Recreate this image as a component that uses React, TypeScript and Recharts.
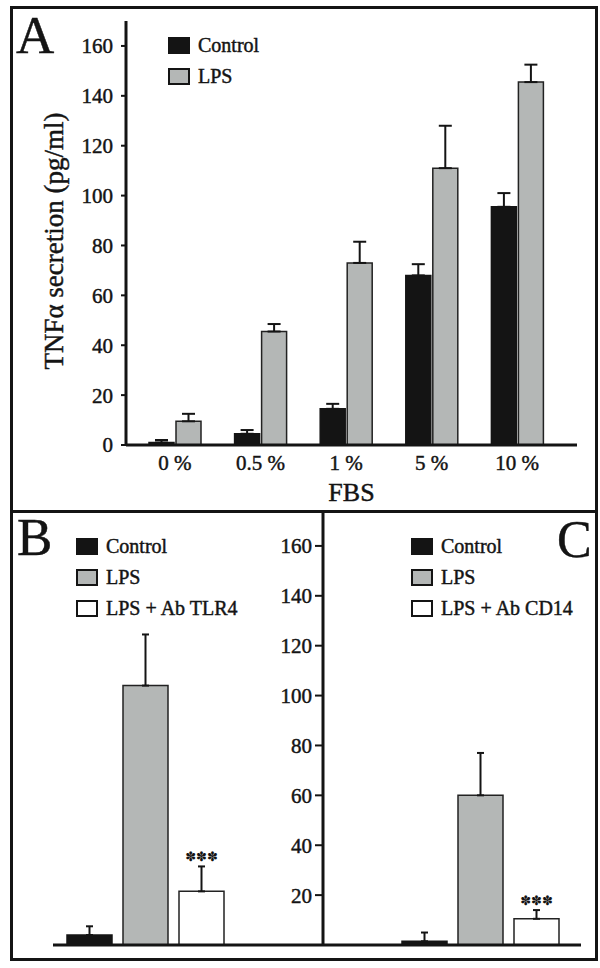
import { BarChart, Bar, XAxis, YAxis, ErrorBar, Legend, LabelList, Label } from 'recharts'

const SERIF = "'Liberation Serif', 'Times New Roman', serif"
const INK = '#141414'
const GREY = '#b4b7b6'

// panel A: TNFa vs FBS concentration
const fbsLevels = ['0 %', '0.5 %', '1 %', '5 %', '10 %']
const controlA = [1, 4.5, 14.5, 68, 95.5]
const controlAErr = [1, 1.5, 2, 4.5, 5.5]
const lpsA = [9.5, 45.5, 73, 111, 145.5]
const lpsAErr = [3, 3, 8.5, 17, 7]
const ticksA = [0, 20, 40, 60, 80, 100, 120, 140, 160]

// panels B and C: blocking antibodies
const antibodies = ['Ab TLR4', 'Ab CD14']
const controlBC = [4, 1.5]
const controlBCErr = [3.5, 3.5]
const lpsBC = [104, 60]
const lpsBCErr = [20.5, 17]
const blockedBC = [21.5, 10.5]
const blockedBCErr = [10, 3.5]
const significance = ['✽✽✽', '✽✽✽']
const ticksBC = [20, 40, 60, 80, 100, 120, 140, 160]

const dataA = fbsLevels.map((fbs, i) => ({
  fbs,
  control: controlA[i],
  controlErr: [0, controlAErr[i]],
  lps: lpsA[i],
  lpsErr: [0, lpsAErr[i]],
}))

const rowBC = (i: number) => [
  {
    group: antibodies[i],
    control: controlBC[i],
    controlErr: [0, controlBCErr[i]],
    lps: lpsBC[i],
    lpsErr: [0, lpsBCErr[i]],
    blocked: blockedBC[i],
    blockedErr: [0, blockedBCErr[i]],
    capSpan: blockedBCErr[i],
    stars: significance[i],
  },
]

type KeyItem = { name: string; fill: string }

// scanned figure has heavy type, a thin outline thickens the glyphs a little
const heavy = { stroke: INK, strokeWidth: 0.45 }

function Key({ items }: { items: KeyItem[] }) {
  return (
    <div style={{ fontFamily: SERIF, fontSize: 20, color: INK, whiteSpace: 'nowrap', WebkitTextStroke: '0.45px #141414' }}>
      {items.map((it) => (
        <div key={it.name} style={{ display: 'flex', alignItems: 'center', height: 31 }}>
          <span
            style={{
              display: 'inline-block',
              width: 22,
              height: 17,
              boxSizing: 'border-box',
              border: `2px solid ${INK}`,
              background: it.fill,
              marginRight: 8,
            }}
          />
          <span>{it.name}</span>
        </div>
      ))}
    </div>
  )
}

function YTitle(props: any) {
  const vb = props.viewBox || { x: 0, y: 21, width: 126, height: 424 }
  const cx = vb.x + 54
  const cy = vb.y + vb.height / 2 + 8
  return (
    <text
      x={cx}
      y={cy}
      transform={`rotate(-90 ${cx} ${cy})`}
      textAnchor="middle"
      dominantBaseline="central"
      fontFamily={SERIF}
      fontSize={27}
      fill={INK}
      {...heavy}
    >
      TNFα secretion (pg/ml)
    </text>
  )
}

const tickFont = { fill: INK, fontSize: 21, fontFamily: SERIF, ...heavy }

function PanelBC({ i, left, width, margin, padding, showAxis }: any) {
  const items: KeyItem[] = [
    { name: 'Control', fill: INK },
    { name: 'LPS', fill: GREY },
    { name: 'LPS + ' + antibodies[i], fill: '#ffffff' },
  ]
  return (
    <div style={{ position: 'absolute', left, top: 480 }}>
      <BarChart width={width} height={488} data={rowBC(i)} margin={margin} barSize={45} barGap={11}>
        <XAxis
          dataKey="group"
          height={1}
          tick={false}
          tickLine={false}
          axisLine={{ stroke: INK, strokeWidth: 3 }}
          padding={padding}
        />
        <YAxis
          hide={!showAxis}
          width={73}
          domain={[0, 174]}
          ticks={ticksBC}
          interval={0}
          tickSize={8}
          tickMargin={3}
          tick={tickFont}
          axisLine={{ stroke: INK, strokeWidth: 3 }}
          tickLine={{ stroke: INK, strokeWidth: 2 }}
        />
        <Bar dataKey="control" stackId="c" fill={INK} stroke={INK} strokeWidth={1.5} isAnimationActive={false}>
          <ErrorBar dataKey="controlErr" width={3.5} strokeWidth={2} stroke={INK} direction="y" />
        </Bar>
        <Bar dataKey="lps" stackId="l" fill={GREY} stroke="#222" strokeWidth={1.5} isAnimationActive={false}>
          <ErrorBar dataKey="lpsErr" width={3.5} strokeWidth={2} stroke={INK} direction="y" />
        </Bar>
        <Bar dataKey="blocked" stackId="ab" fill="#ffffff" stroke="#222" strokeWidth={1.5} isAnimationActive={false}>
          <ErrorBar dataKey="blockedErr" width={3.5} strokeWidth={2} stroke={INK} direction="y" />
        </Bar>
        <Bar dataKey="capSpan" stackId="ab" fill="none" isAnimationActive={false}>
          <LabelList dataKey="stars" position="top" offset={5} fill={INK} fontSize={13} fontFamily="'DejaVu Sans'" />
        </Bar>
        <Legend
          layout="vertical"
          align="center"
          verticalAlign="middle"
          wrapperStyle={{ left: showAxis ? 161 : 76, top: 51 }}
          content={() => <Key items={items} />}
        />
      </BarChart>
    </div>
  )
}

export default function App() {
  const keyA: KeyItem[] = [
    { name: 'Control', fill: INK },
    { name: 'LPS', fill: GREY },
  ]
  return (
    <div style={{ position: 'absolute', left: 0, top: 0, width: 600, height: 968, background: '#fff' }}>
      <div style={{ position: 'absolute', left: 0, top: 0 }}>
        <BarChart width={600} height={512} data={dataA} margin={{ top: 21, right: 23, bottom: 0, left: 0 }} barSize={25} barGap={2}>
          <XAxis
            dataKey="fbs"
            height={67}
            interval={0}
            padding={{ left: 6, right: 17 }}
            axisLine={{ stroke: INK, strokeWidth: 3 }}
            tickLine={false}
            tickMargin={4}
            tick={tickFont}
          >
            <Label value="FBS" position="insideBottom" offset={11} fontSize={26} fontFamily={SERIF} fill={INK} {...heavy} />
          </XAxis>
          <YAxis
            width={126}
            domain={[0, 170]}
            ticks={ticksA}
            interval={0}
            tickSize={5}
            tickMargin={8}
            tick={tickFont}
            axisLine={{ stroke: INK, strokeWidth: 3 }}
            tickLine={{ stroke: INK, strokeWidth: 2 }}
          >
            <Label content={<YTitle />} />
          </YAxis>
          <Bar dataKey="control" fill={INK} stroke={INK} strokeWidth={1.5} isAnimationActive={false}>
            <ErrorBar dataKey="controlErr" width={6.5} strokeWidth={2} stroke={INK} direction="y" />
          </Bar>
          <Bar dataKey="lps" fill={GREY} stroke="#222" strokeWidth={1.5} isAnimationActive={false}>
            <ErrorBar dataKey="lpsErr" width={6.5} strokeWidth={2} stroke={INK} direction="y" />
          </Bar>
          <Legend
            layout="vertical"
            align="center"
            verticalAlign="middle"
            wrapperStyle={{ left: 168, top: 30 }}
            content={() => <Key items={keyA} />}
          />
        </BarChart>
      </div>

      <PanelBC i={0} left={0} width={330} margin={{ top: 31, right: 7, bottom: 22, left: 53 }} padding={{ left: 0, right: 85 }} showAxis={false} />
      <PanelBC i={1} left={250} width={350} margin={{ top: 31, right: 19, bottom: 22, left: 0 }} padding={{ left: 56, right: 0 }} showAxis={true} />

      {/* frame and divider */}
      <div style={{ position: 'absolute', left: 10, top: 6, width: 588, height: 955, boxSizing: 'border-box', border: `3px solid ${INK}`, pointerEvents: 'none' }} />
      <div style={{ position: 'absolute', left: 10, top: 510, width: 588, height: 3, background: INK }} />

      <svg width={600} height={968} style={{ position: 'absolute', left: 0, top: 0, pointerEvents: 'none' }}>
        <text x={16} y={53} fontFamily={SERIF} fontSize={53} fill={INK} {...heavy}>A</text>
        <text x={17} y={555} fontFamily={SERIF} fontSize={53} fill={INK} {...heavy}>B</text>
        <text x={557} y={557} fontFamily={SERIF} fontSize={52} fill={INK} {...heavy}>C</text>
      </svg>
    </div>
  )
}
